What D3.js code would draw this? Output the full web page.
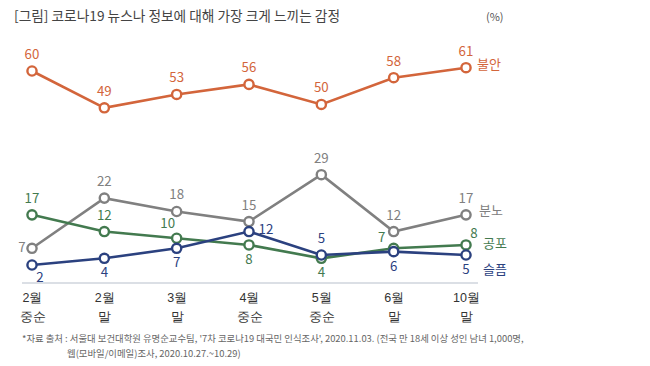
<!DOCTYPE html>
<html><head><meta charset="utf-8">
<script src="https://cdn.jsdelivr.net/npm/d3@7"></script>
<style>
html,body{margin:0;padding:0;background:#fff;}
svg{display:block;font-family:"Noto Sans CJK KR","Noto Sans",sans-serif;}
</style></head>
<body><svg id="c" width="650" height="366"></svg>
<script>
const categories = ["2월|중순","2월|말","3월|말","4월|중순","5월|중순","6월|말","10월|말"];
const seriesNames = ["불안","분노","공포","슬픔"];
const anxiety = [60,49,53,56,50,58,61];
const anger   = [7,22,18,15,29,12,17];
const fear    = [17,12,10,8,4,7,8];
const sadness = [2,4,7,12,5,6,5];
const title = "[그림] 코로나19 뉴스나 정보에 대해 가장 크게 느끼는 감정";
const unit = "(%)";
const source1 = "*자료 출처 : 서울대 보건대학원 유명순교수팀, '7차 코로나19 대국민 인식조사', 2020.11.03. (전국 만 18세 이상 성인 남녀 1,000명,";
const source2 = "웹(모바일/이메일)조사, 2020.10.27.~10.29)";

// label placement (layout only)
const place = {
  "불안": ["t","t","t","t","t","t","t"],
  "분노": ["l","t","t","t","t","t","t"],
  "공포": ["t","t","tl","b","b","tl2","tr"],
  "슬픔": ["br","b","b","r","t","b","b"]
};
const colors = {"불안":"#d3653b","분노":"#808080","공포":"#437a4f","슬픔":"#2b417f"};
const data = {"불안":anxiety,"분노":anger,"공포":fear,"슬픔":sadness};

const svg = d3.select("#c");
const x = d3.scalePoint().domain(categories).range([32,466]);
const y = d3.scaleLinear().domain([0,65]).range([271.7,54.3]);

svg.append("text").attr("x",14).attr("y",21).attr("font-size",13.7).attr("fill","#444").text(title);
svg.append("text").attr("x",486).attr("y",21).attr("font-size",11).attr("fill","#555").text(unit);

// axis
const ax = svg.append("g").attr("transform","translate(0,283)");
const axis = d3.axisBottom(x).tickSize(0).tickFormat("");
ax.call(axis);
ax.select(".domain").attr("d","M22,0H478").attr("stroke","#b8c0cc").attr("stroke-width",1.2);
ax.selectAll(".tick").each(function(d){
  const parts = d.split("|");
  const g = d3.select(this);
  g.append("text").attr("y",19).attr("text-anchor","middle").attr("font-size",12.5).attr("fill","#333").text(parts[0]);
  g.append("text").attr("y",38).attr("text-anchor","middle").attr("font-size",12.5).attr("fill","#333").text(parts[1]);
});

const line = d3.line().x((d,i)=>x(categories[i])).y(d=>y(d));
const off = {
  t:[0,-12], b:[0,19], l:[-10,4], r:[17,2], br:[8,17], tl:[-9,-10], tl2:[-12,-6], tr:[8,-7]
};
const drawOrder = ["분노","공포","슬픔","불안"];
drawOrder.forEach(name=>{
  const vals = data[name], col = colors[name];
  const g = svg.append("g");
  g.append("path").attr("d",line(vals)).attr("fill","none").attr("stroke",col).attr("stroke-width",2.6);
  g.selectAll("circle").data(vals).join("circle")
    .attr("cx",(d,i)=>x(categories[i])).attr("cy",d=>y(d)).attr("r",4.6)
    .attr("fill","#fff").attr("stroke",col).attr("stroke-width",2.4);
  g.selectAll("text.v").data(vals).join("text").attr("class","v")
    .attr("x",(d,i)=>x(categories[i])+off[place[name][i]][0])
    .attr("y",(d,i)=>y(d)+off[place[name][i]][1])
    .attr("text-anchor","middle").attr("font-size",13.3).attr("fill",col).text(d=>d);
});
// series labels
const lastX = x(categories[categories.length-1]);
const seriesLabelOff = {"불안":[11,-3],"분노":[13,-4],"공포":[17,-1],"슬픔":[17,15]};
seriesNames.forEach(name=>{
  const vals = data[name];
  svg.append("text").attr("x",lastX+seriesLabelOff[name][0]).attr("y",y(vals[vals.length-1])+seriesLabelOff[name][1]+4)
    .attr("font-size",13).attr("fill",colors[name]).text(name);
});

svg.append("text").attr("x",22).attr("y",342).attr("font-size",9.4).attr("fill","#666").text(source1);
svg.append("text").attr("x",67).attr("y",357).attr("font-size",9.4).attr("fill","#666").text(source2);
</script></body></html>
